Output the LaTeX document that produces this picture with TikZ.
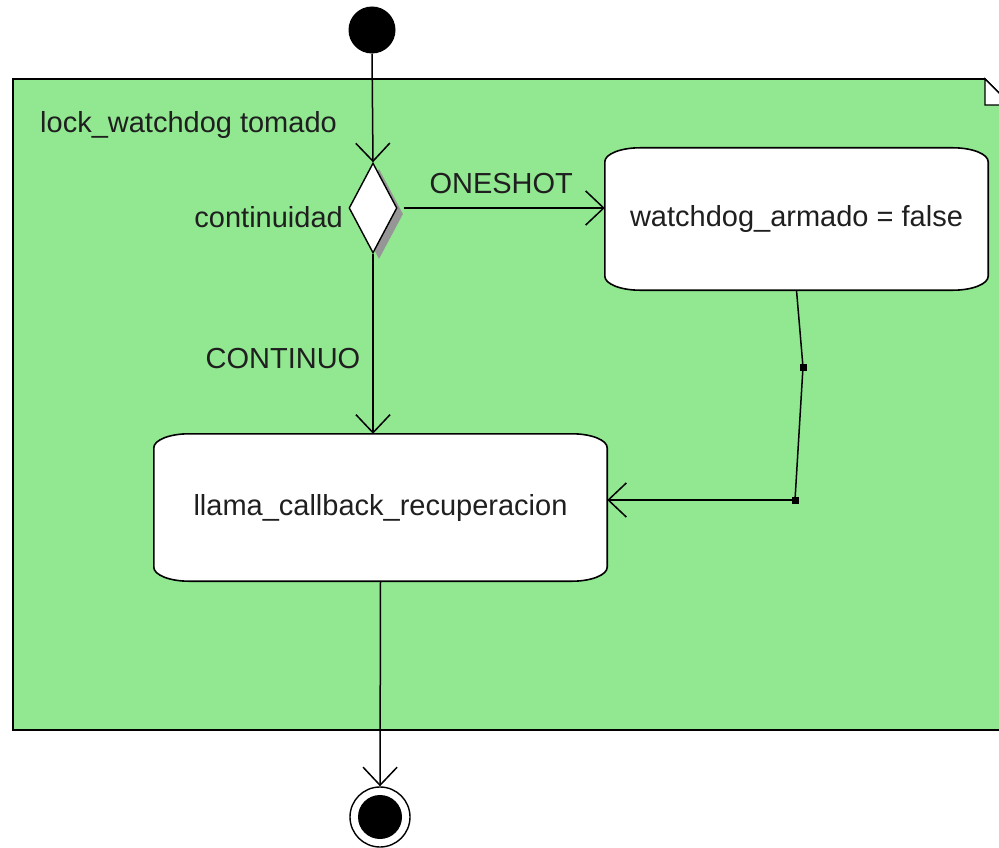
\documentclass[tikz,border=0pt]{standalone}
\usepackage{fontspec}
\setmainfont{Liberation Sans}
\usetikzlibrary{shapes.geometric,arrows.meta,calc}
\pgfdeclarelayer{bg}
\pgfsetlayers{bg,main}
\definecolor{framegreen}{RGB}{145,232,145}
\definecolor{shadowgrey}{RGB}{150,150,150}
\newcommand\actshape[1]{%
  \begin{pgfonlayer}{bg}
  \draw[line width=1.6pt, fill=white]
    ($(#1.north west)+(35,0)$) -- ($(#1.north east)+(-35,0)$)
    .. controls ($(#1.north east)+(-15.7,0)$) and ($(#1.north east)+(0,6.3)$) .. ($(#1.north east)+(0,14)$)
    -- ($(#1.south east)+(0,-14)$)
    .. controls ($(#1.south east)+(0,-6.3)$) and ($(#1.south east)+(-15.7,0)$) .. ($(#1.south east)+(-35,0)$)
    -- ($(#1.south west)+(35,0)$)
    .. controls ($(#1.south west)+(15.7,0)$) and ($(#1.south west)+(0,-6.3)$) .. ($(#1.south west)+(0,-14)$)
    -- ($(#1.north west)+(0,14)$)
    .. controls ($(#1.north west)+(0,6.3)$) and ($(#1.north west)+(15.7,0)$) .. cycle;
  \end{pgfonlayer}}
\begin{document}
\begin{tikzpicture}[x=1pt,y=-1pt,
  lbl/.style={font=\fontsize{29}{34}\selectfont, text=black!88, inner sep=0pt},
  actbox/.style={lbl, draw=none},
  flow/.style={draw, line width=1.5pt, -{Straight Barb[length=18pt,width=34pt]}},
  plain/.style={draw, line width=1.5pt},
  joint/.style={fill=black, minimum size=7pt, inner sep=0pt}]
\useasboundingbox (0,0) rectangle (999,848);
\clip (0,0) rectangle (999,848);

% frame
\begin{pgfonlayer}{bg}
\draw[line width=1.6pt, fill=framegreen] (13,79) -- (985,79) -- (1011,105) -- (1011,730) -- (13,730) -- cycle;
\draw[line width=1.4pt, fill=white] (985,79) -- (985,105) -- (1011,105) -- cycle;
\end{pgfonlayer}
\node[lbl, anchor=west] (frametitle) at (40,125) {lock\_watchdog tomado};

% nodes
\node[circle, fill=black, minimum size=47pt, inner sep=0pt] (init) at (372,30) {};
\node[diamond, fill=shadowgrey, minimum width=48pt, minimum height=90pt, inner sep=0pt] (decshadow) at (379,214) {};
\node[diamond, draw, line width=1.4pt, fill=white, minimum width=48pt, minimum height=90pt, inner sep=0pt] (dec) at (373,208) {};
\node[lbl, anchor=east] (declbl) at (343,217) {continuidad};

\node[actbox, minimum width=383pt, minimum height=142pt] (wd) at (796.5,219) {watchdog\_armado = false};
\actshape{wd}
\node[actbox, minimum width=453pt, minimum height=147pt] (llama) at (380.5,507.5) {llama\_callback\_recuperacion};
\actshape{llama}

\node[circle, draw, line width=1.4pt, fill=white, minimum size=60pt, inner sep=0pt] (fin) at (380,817) {};
\node[circle, fill=black, minimum size=44pt, inner sep=0pt] (fininner) at (fin) {};

\node[joint] (j1) at (803,367) {};
\node[joint] (j2) at (795,500) {};

% connectors
\draw[flow] (init.south) -- (dec.north);
\draw[flow, shorten <=6pt] (dec.east) -- (dec.east -| wd.west) node[lbl, midway, above=13pt] (lone) {ONESHOT};
\draw[flow] (dec.south) -- (dec.south |- llama.north) node[lbl, pos=0.58, left=12pt] (lcont) {CONTINUO};
\draw[plain] (wd.south) -- (j1.center) -- (j2.center);
\draw[flow] (j2.center) -- (j2 -| llama.east);
\draw[flow] (llama.south) -- (fin.north);
\end{tikzpicture}
\end{document}
